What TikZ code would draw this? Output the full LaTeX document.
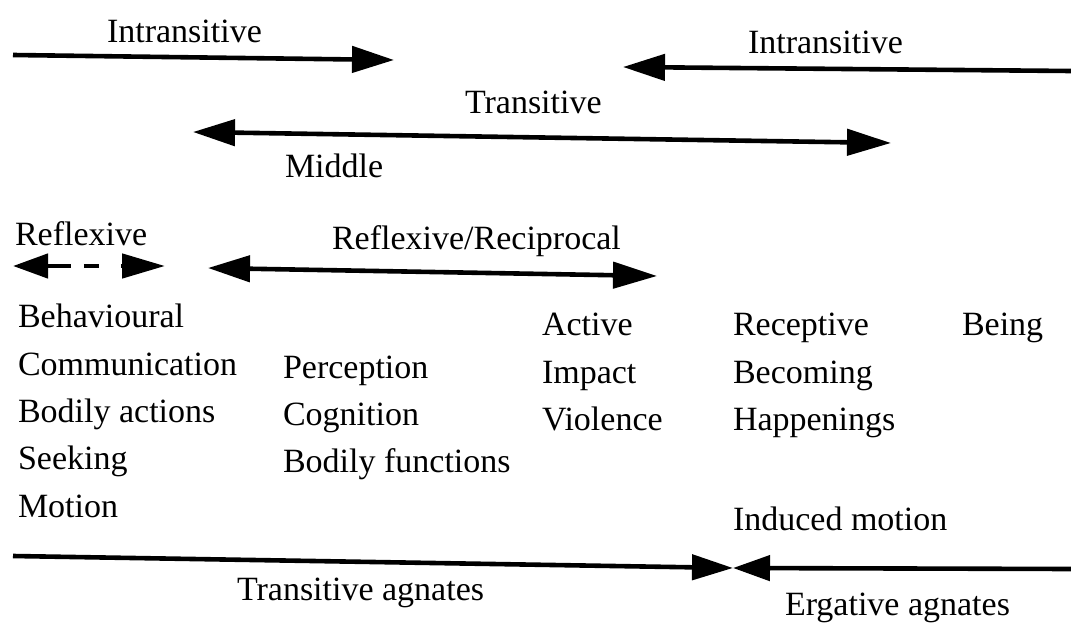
\documentclass[tikz,border=0pt]{standalone}
\usepackage{fontspec}
\setmainfont{Liberation Serif}
\usetikzlibrary{arrows.meta}
\tikzset{
  lbl/.style={anchor=base west, inner sep=0pt, outer sep=0pt,
    font=\fontsize{34}{40}\selectfont},
  bar/.style={line width=4.6pt, line cap=butt},
  big/.style={bar, -{Triangle[length=42pt,width=26pt]}},
  bigboth/.style={bar, {Triangle[length=42pt,width=26pt]}-{Triangle[length=44pt,width=26pt]}},
  small/.style={bar, {Triangle[length=35pt,width=24pt]}-{Triangle[length=43pt,width=24pt]}}
}
\begin{document}
\begin{tikzpicture}[x=1pt,y=-1pt]
\useasboundingbox (0,0) rectangle (1071,626);

% top row: two intransitive arrows
\node[lbl] (intrL) at (107,43) {Intransitive};
\coordinate (iLs) at (13,55);
\coordinate (iLe) at (394,60);
\draw[big] (iLs) -- (iLe);

\node[lbl] (intrR) at (748,54) {Intransitive};
\coordinate (iRs) at (1071,71);
\coordinate (iRe) at (623,67);
\draw[big] (iRs) -- (iRe);

% transitive / middle
\node[lbl] (trans) at (465,113) {Transitive};
\coordinate (tA) at (193,132);
\coordinate (tB) at (891,143);
\draw[bigboth] (tA) -- (tB);
\node[lbl] (middle) at (285,177) {Middle};

% reflexive arrows
\node[lbl] (refl) at (15,245) {Reflexive};
\coordinate (rA) at (13,266);
\coordinate (rB) at (165,266);
\draw[small, dash pattern=on 24pt off 13pt on 15pt off 22pt] (rA) -- (rB);

\node[lbl] (reflrec) at (332,249) {Reflexive/Reciprocal};
\coordinate (rrA) at (208,268);
\coordinate (rrB) at (657,276);
\draw[bigboth] (rrA) -- (rrB);

% column 1
\node[lbl] (beh)  at (18,327) {Behavioural};
\node[lbl] (comm) at (18,375) {Communication};
\node[lbl] (bact) at (18,422) {Bodily actions};
\node[lbl] (seek) at (18,469) {Seeking};
\node[lbl] (mot)  at (18,517) {Motion};

% column 2
\node[lbl] (perc) at (283,378) {Perception};
\node[lbl] (cogn) at (283,425) {Cognition};
\node[lbl] (bfun) at (283,472) {Bodily functions};

% column 3
\node[lbl] (act)  at (542,335) {Active};
\node[lbl] (imp)  at (542,383) {Impact};
\node[lbl] (viol) at (542,430) {Violence};

% column 4
\node[lbl] (rec)  at (733,335) {Receptive};
\node[lbl] (beco) at (733,383) {Becoming};
\node[lbl] (happ) at (733,430) {Happenings};
\node[lbl] (being) at (962,335) {Being};
\node[lbl] (indm) at (733,530) {Induced motion};

% bottom: transitive vs ergative agnates
\coordinate (bL) at (13,556);
\coordinate (bM) at (733,568);
\coordinate (bR) at (1071,569);
\draw[bar, -{Triangle[length=41pt,width=25pt]}] (bL) -- (bM);
\draw[bar, -{Triangle[length=37pt,width=25pt]}] (bR) -- (bM);
\node[lbl] (tag) at (237,600) {Transitive agnates};
\node[lbl] (eag) at (785,615) {Ergative agnates};
\end{tikzpicture}
\end{document}
